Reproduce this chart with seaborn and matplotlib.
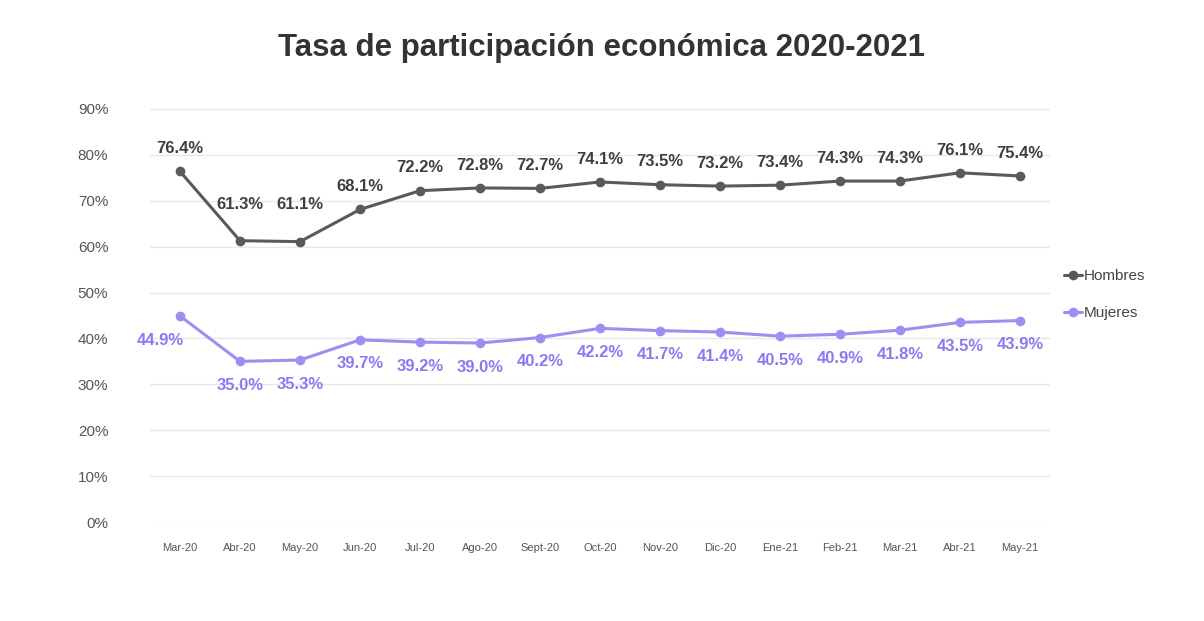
"""
Tasa de participación económica 2020-2021, hombres vs mujeres.
"""
import matplotlib
matplotlib.use("Agg")
import matplotlib.pyplot as plt
import pandas as pd
import seaborn as sns

MESES = ["Mar-20", "Abr-20", "May-20", "Jun-20", "Jul-20", "Ago-20", "Sept-20", "Oct-20",
         "Nov-20", "Dic-20", "Ene-21", "Feb-21", "Mar-21", "Abr-21", "May-21"]
HOMBRES = [76.4, 61.3, 61.1, 68.1, 72.2, 72.8, 72.7, 74.1, 73.5, 73.2, 73.4, 74.3, 74.3, 76.1, 75.4]
MUJERES = [44.9, 35.0, 35.3, 39.7, 39.2, 39.0, 40.2, 42.2, 41.7, 41.4, 40.5, 40.9, 41.8, 43.5, 43.9]
Y_TICKS = [0, 10, 20, 30, 40, 50, 60, 70, 80, 90]

COLOR_H = "#5a5a5a"
COLOR_M = "#9d8ff2"
TEXT_H = "#3f3f3f"
TEXT_M = "#8a7af0"

sns.set_style("white")
plt.rcParams["font.family"] = ["Liberation Sans", "DejaVu Sans"]

df = pd.concat([
    pd.DataFrame({"mes": range(len(MESES)), "tasa": HOMBRES, "grupo": "Hombres"}),
    pd.DataFrame({"mes": range(len(MESES)), "tasa": MUJERES, "grupo": "Mujeres"}),
])

fig = plt.figure(figsize=(12.04, 6.21), dpi=100)
ax = fig.add_axes([150 / 1204, 1 - 522 / 621, 900 / 1204, 413 / 621])

sns.lineplot(data=df, x="mes", y="tasa", hue="grupo",
             palette={"Hombres": COLOR_H, "Mujeres": COLOR_M},
             marker="o", markersize=7, markeredgewidth=0, linewidth=2.2, ax=ax)

# data labels: men above, women below (the dip labels sit higher, clear of the line)
for i, (h, m) in enumerate(zip(HOMBRES, MUJERES)):
    dy = 21 if i in (1, 2) else 11
    ax.annotate(f"{h:.1f}%", (i, h), xytext=(0, dy), textcoords="offset points",
                ha="center", va="bottom", fontsize=12, fontweight="bold", color=TEXT_H)
    dx = -14 if i == 0 else 0
    ax.annotate(f"{m:.1f}%", (i, m), xytext=(dx, -12), textcoords="offset points",
                ha="center", va="top", fontsize=12, fontweight="bold", color=TEXT_M)

ax.set_xlim(-0.5, len(MESES) - 0.5)
ax.set_ylim(0, 90)
ax.set_xticks(range(len(MESES)))
ax.set_xticklabels(MESES, fontsize=8, color="#555555")
ax.set_yticks(Y_TICKS)
ax.set_yticklabels([f"{v}%" for v in Y_TICKS], fontsize=11, color="#555555")
ax.tick_params(axis="x", length=0, pad=15)
ax.tick_params(axis="y", length=0, pad=30)
ax.grid(axis="y", color="#e8e8e8", linewidth=1)
ax.set_axisbelow(True)
ax.set_xlabel("")
ax.set_ylabel("")
sns.despine(ax=ax, left=True, bottom=True)

leg = ax.legend(loc="center left", bbox_to_anchor=(1.0, 0.55), frameon=False,
                fontsize=11, handlelength=1.2, handletextpad=0.1, labelspacing=1.5)
for t in leg.get_texts():
    t.set_color("#444444")

fig.text(0.5, 1 - 48 / 621, "Tasa de participación económica 2020-2021", ha="center",
         va="center", fontsize=22.5, fontweight="bold", color="#333333")

fig.savefig("out.png", dpi=100, facecolor="white")
